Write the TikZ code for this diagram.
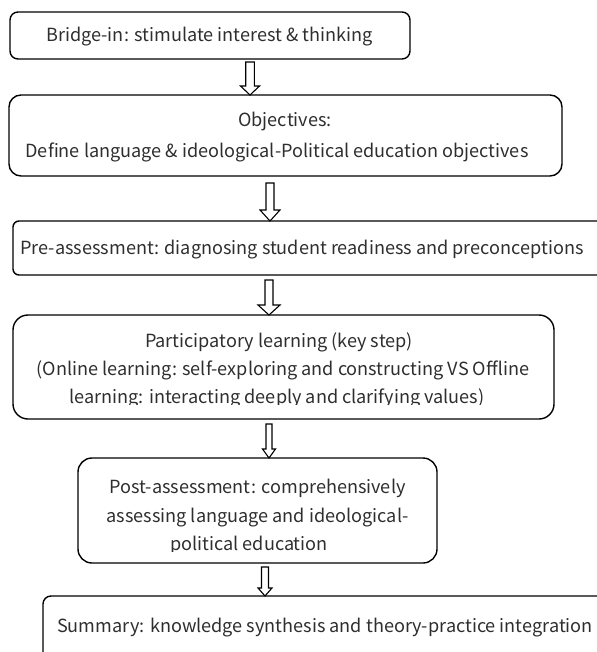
\documentclass[tikz,border=0pt]{standalone}
\usepackage{fontspec}
\setmainfont{Noto Sans CJK SC}
\usetikzlibrary{calc}
\newcommand\hollowarrow[5]{% #1 start, #2 tip, #3 half shaft, #4 half head, #5 head length
  \draw[harrow] ($(#1)+(-#3,0)$) -- ($(#1)+(#3,0)$) -- ($(#2)+(#3,-#5)$) -- ($(#2)+(#4,-#5)$) -- (#2) -- ($(#2)+(-#4,-#5)$) -- ($(#2)+(-#3,-#5)$) -- cycle;}
\begin{document}
\begin{tikzpicture}[x=1pt,y=-1pt,
  box/.style={draw=black, line width=1.4pt, inner sep=0pt, outer sep=0pt},
  lbl/.style={inner sep=0pt, anchor=base, font=\fontsize{18.1}{22}\selectfont, text=black!82},
  harrow/.style={draw=black, line width=1.1pt, fill=white, line join=miter}]
\useasboundingbox (0,0) rectangle (596,652);
% boxes
\node[box, rounded corners=8pt,  minimum width=400pt, minimum height=47pt]  (b1) at (210,35.5) {};
\node[box, rounded corners=12pt, minimum width=553pt, minimum height=81pt]  (b2) at (285.5,135.5) {};
\node[box, rounded corners=6pt,  minimum width=607pt, minimum height=54pt]  (b3) at (316.5,248) {};
\node[box, rounded corners=15pt, minimum width=541pt, minimum height=104pt] (b4) at (283.5,367) {};
\node[box, rounded corners=14pt, minimum width=359pt, minimum height=105pt] (b5) at (257.5,510.5) {};
\node[box, rounded corners=8pt,  minimum width=577pt, minimum height=94pt]  (b6) at (331.5,643) {};
% texts
\node[lbl] (t1) at (209.5,42) {Bridge-in: stimulate interest \& thinking};
\node[lbl] (t2a) at (285,127) {Objectives:};
\node[lbl] (t2b) at (277,158) {Define language \& ideological-Political education objectives};
\node[lbl] (t3) at (302,254) {Pre-assessment: diagnosing student readiness and preconceptions};
\node[lbl] (t4a) at (279,347) {Participatory learning (key step)};
\node[lbl] (t4b) at (283,375) {(Online learning: self-exploring and constructing VS Offline};
\begin{scope}
\clip (0,380) rectangle (596,404.5);
\node[lbl] (t4c) at (277,403) {learning: interacting deeply and clarifying values)};
\end{scope}
\node[lbl] (t5a) at (257.5,493) {Post-assessment: comprehensively};
\node[lbl] (t5b) at (257.5,522) {assessing language and ideological-};
\begin{scope}
\clip (0,528) rectangle (596,551.5);
\node[lbl] (t5c) at (249,550) {political education};
\end{scope}
\node[lbl] (t6) at (325,632) {Summary: knowledge synthesis and theory-practice integration};
% arrows
\coordinate (a1s) at (250,62);  \coordinate (a1e) at (a1s |- b2.north);
\coordinate (a2s) at (270,183); \coordinate (a2e) at (a2s |- b3.north);
\coordinate (a3s) at (269,280); \coordinate (a3e) at (a3s |- b4.north);
\coordinate (a4s) at (269,424); \coordinate (a4e) at (a4s |- b5.north);
\coordinate (a5s) at (265,567); \coordinate (a5e) at (a5s |- b6.north);
\hollowarrow{a1s}{a1e}{4.3}{9.5}{9}
\hollowarrow{a2s}{a2e}{4}{10}{11}
\hollowarrow{a3s}{a3e}{4}{11}{10}
\hollowarrow{a4s}{a4e}{3}{6.5}{9}
\hollowarrow{a5s}{a5e}{3.5}{7}{8}
\end{tikzpicture}
\end{document}
